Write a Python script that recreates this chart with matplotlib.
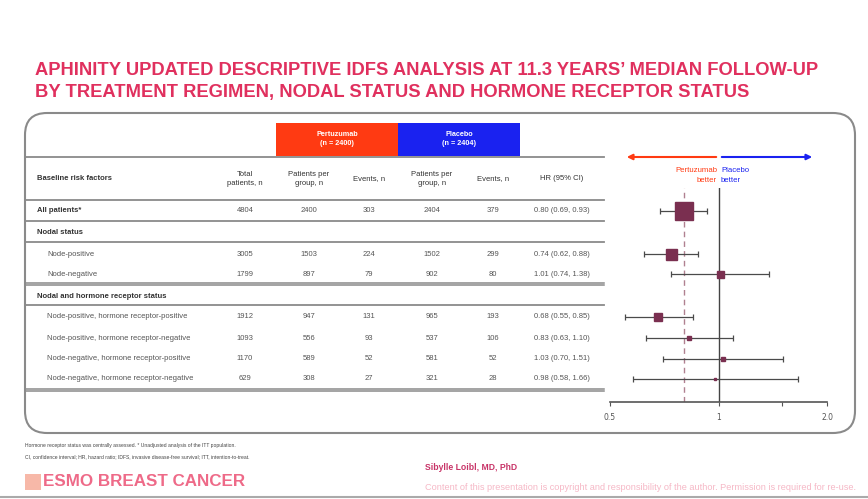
import matplotlib
matplotlib.use("Agg")
import matplotlib.pyplot as plt
from matplotlib.patches import FancyBboxPatch, Rectangle
from matplotlib.ticker import FixedLocator, NullLocator

# table data
labels = ["All patients*", "Nodal status", "Node-positive", "Node-negative",
          "Nodal and hormone receptor status",
          "Node-positive, hormone receptor-positive",
          "Node-positive, hormone receptor-negative",
          "Node-negative, hormone receptor-positive",
          "Node-negative, hormone receptor-negative"]
is_heading = [True, True, False, False, True, False, False, False, False]
total_n = [4804, None, 3005, 1799, None, 1912, 1093, 1170, 629]
pert_n = [2400, None, 1503, 897, None, 947, 556, 589, 308]
pert_events = [303, None, 224, 79, None, 131, 93, 52, 27]
plac_n = [2404, None, 1502, 902, None, 965, 537, 581, 321]
plac_events = [379, None, 299, 80, None, 193, 106, 52, 28]
hr = [0.80, None, 0.74, 1.01, None, 0.68, 0.83, 1.03, 0.98]
hr_lo = [0.69, None, 0.62, 0.74, None, 0.55, 0.63, 0.70, 0.58]
hr_hi = [0.93, None, 0.88, 1.38, None, 0.85, 1.10, 1.51, 1.66]
overall_hr = 0.80
x_ticks = [0.5, 1, 1.5, 2.0]
x_tick_labels = ["0.5", "1", "", "2.0"]

# layout (pixels)
W, H = 868, 499
row_y = [211, 233, 254, 274, 296, 317, 338, 359, 379]
marker_px = [18, None, 11, 7, None, 7.5, 4, 4.5, 2.5]
col_x = [245, 309, 369, 432, 493, 562]
single_rules = [157, 200, 221, 242, 305]
double_rules = [284, 390]

title_col = "#E0305E"
marker_col = "#7A2F50"
red = "#FF3A12"
blue = "#1A22F0"
txt = "#333333"
sans = ["Liberation Sans", "DejaVu Sans"]

fig = plt.figure(figsize=(W / 100, H / 100), dpi=100)
renderer = fig.canvas.get_renderer()
bg = fig.add_axes([0, 0, 1, 1])
bg.set_xlim(0, W)
bg.set_ylim(H, 0)
bg.axis("off")


def fit(t, width):
    # shrink a text until it is `width` pixels wide
    w = t.get_window_extent(renderer).width
    t.set_fontsize(t.get_fontsize() * width / w)
    return t


# title
fit(bg.text(35, 70, "APHINITY UPDATED DESCRIPTIVE IDFS ANALYSIS AT 11.3 YEARS\u2019 MEDIAN FOLLOW-UP",
            color=title_col, fontsize=16, fontweight="bold", family=sans, va="center"), 784)
fit(bg.text(35, 92, "BY TREATMENT REGIMEN, NODAL STATUS AND HORMONE RECEPTOR STATUS",
            color=title_col, fontsize=16, fontweight="bold", family=sans, va="center"), 713)

# rounded frame
bg.add_patch(FancyBboxPatch((25, 113), 830, 320, boxstyle="round,pad=0,rounding_size=22",
                            fill=False, ec="#8a8a8a", lw=1.5))

# header bands
bg.add_patch(Rectangle((276, 123), 122, 33, color=red, lw=0))
bg.add_patch(Rectangle((398, 123), 122, 33, color=blue, lw=0))
bg.text(337, 139, "Pertuzumab\n(n = 2400)", color="white", fontsize=5.2, fontweight="bold",
        family=sans, ha="center", va="center", linespacing=1.5)
bg.text(459, 139, "Placebo\n(n = 2404)", color="white", fontsize=5.2, fontweight="bold",
        family=sans, ha="center", va="center", linespacing=1.5)

# rules
for y in single_rules:
    bg.plot([25, 604], [y, y], color="#8a8a8a", lw=1.3)
for y in double_rules:
    bg.plot([25, 604], [y - 1, y - 1], color="#8a8a8a", lw=1.1)
    bg.plot([25, 604], [y + 1, y + 1], color="#8a8a8a", lw=1.1)

# column headers
fs = 5.5
bg.text(37, 179, "Baseline risk factors", fontsize=fs, fontweight="bold", family=sans,
        color=txt, va="center")
heads = ["Total\npatients, n", "Patients per\ngroup, n", "Events, n",
         "Patients per\ngroup, n", "Events, n", "HR (95% CI)"]
for x, h in zip(col_x, heads):
    bg.text(x, 179, h, fontsize=fs, family=sans, color=txt, ha="center", va="center",
            linespacing=1.5)

# rows
for i, lab in enumerate(labels):
    y = row_y[i]
    if is_heading[i]:
        bg.text(37, y, lab, fontsize=fs, fontweight="bold", family=sans, color=txt, va="center")
    else:
        bg.text(47, y, lab, fontsize=fs, family=sans, color="#555555", va="center")
    if hr[i] is None:
        continue
    vals = [str(total_n[i]), str(pert_n[i]), str(pert_events[i]), str(plac_n[i]),
            str(plac_events[i]), f"{hr[i]:.2f} ({hr_lo[i]:.2f}, {hr_hi[i]:.2f})"]
    for x, v in zip(col_x, vals):
        bg.text(x, y, v, fontsize=fs, family=sans, color="#555555", ha="center", va="center")

# forest plot axes, y in same pixel units as the table
fx0, fx1, fy0, fy1 = 610, 827, 402, 188
fa = fig.add_axes([fx0 / W, 1 - fy0 / H, (fx1 - fx0) / W, (fy0 - fy1) / H])
fa.patch.set_alpha(0)
fa.set_xscale("log")
fa.set_xlim(0.5, 2.0)
fa.set_ylim(fy0, fy1)
for s in ["top", "right", "left"]:
    fa.spines[s].set_visible(False)
fa.spines["bottom"].set_color("#555555")
fa.spines["bottom"].set_linewidth(1.2)
fa.xaxis.set_major_locator(FixedLocator(x_ticks))
fa.xaxis.set_minor_locator(NullLocator())
fa.set_xticklabels(x_tick_labels)
fa.tick_params(axis="x", length=3, color="#555555", labelsize=5.5, labelcolor="#555555", pad=5)
fa.set_yticks([])
fa.axvline(1, color="#444444", lw=1)
fa.axvline(overall_hr, color="#b08090", lw=1, ls=(0, (4, 3)))

for i in range(len(labels)):
    if hr[i] is None:
        continue
    y = row_y[i]
    fa.errorbar(hr[i], y, xerr=[[hr[i] - hr_lo[i]], [hr_hi[i] - hr[i]]], fmt="none",
                ecolor="#4a4a4a", elinewidth=0.9, capsize=2.5, capthick=0.9)
    fa.plot(hr[i], y, marker="s", ms=marker_px[i] * 0.72, color=marker_col, mec=marker_col)

# direction arrows
bg.annotate("", xy=(624, 157), xytext=(719, 157),
            arrowprops=dict(arrowstyle="-|>", color=red, lw=1.5, mutation_scale=8))
bg.annotate("", xy=(815, 157), xytext=(719, 157),
            arrowprops=dict(arrowstyle="-|>", color=blue, lw=1.5, mutation_scale=8))
bg.text(717, 170, "Pertuzumab", color=red, fontsize=5.6, family=sans, ha="right", va="center")
bg.text(717, 181, "better", color=red, fontsize=5.6, family=sans, ha="right", va="center")
bg.text(721, 170, "Placebo", color=blue, fontsize=5.6, family=sans, ha="left", va="center")
bg.text(721, 181, "better", color=blue, fontsize=5.6, family=sans, ha="left", va="center")

# footnotes
bg.text(25, 446, "Hormone receptor status was centrally assessed. * Unadjusted analysis of the ITT population.",
        fontsize=3.6, family=sans, color="#444444", va="center")
bg.text(25, 457, "CI, confidence interval; HR, hazard ratio; IDFS, invasive disease-free survival; ITT, intention-to-treat.",
        fontsize=3.6, family=sans, color="#444444", va="center")

# congress branding
bg.add_patch(Rectangle((25, 474), 16, 16, color="#F7B8A8", lw=0))
fit(bg.text(43, 482, "ESMO BREAST CANCER", color="#EE6A88", fontsize=13.5, fontweight="bold",
            family=sans, va="center"), 202)
fit(bg.text(425, 467, "Sibylle Loibl, MD, PhD", color="#C83468", fontsize=7.5, fontweight="bold",
            family=sans, va="center"), 92)
fit(bg.text(425, 487, "Content of this presentation is copyright and responsibility of the author. Permission is required for re-use.",
            color="#F6B8C6", fontsize=7.5, family=sans, va="center"), 423)
bg.plot([0, W], [497, 497], color="#aaaaaa", lw=1.5)

fig.savefig("out.png", dpi=100)
